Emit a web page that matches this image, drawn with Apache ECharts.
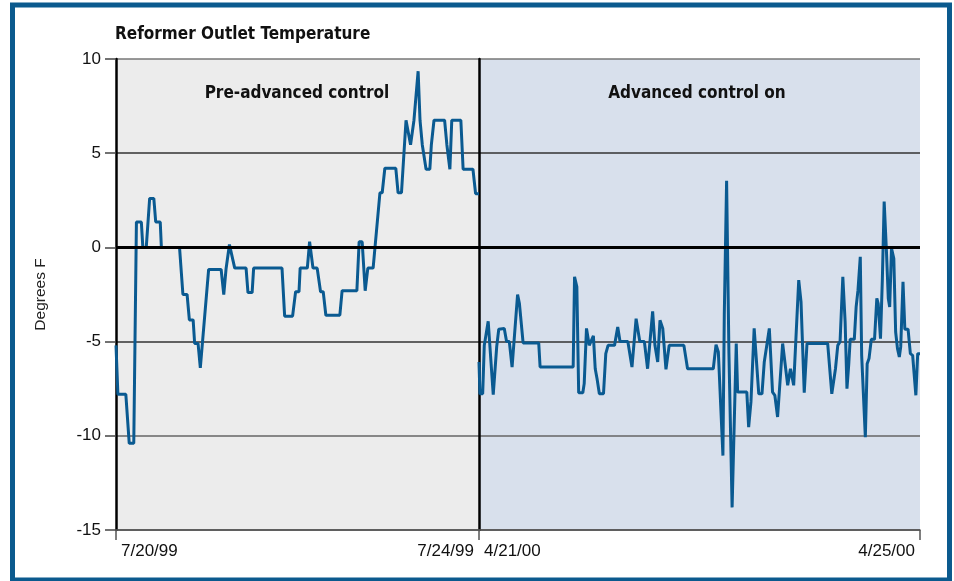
<!DOCTYPE html>
<html>
<head>
<meta charset="utf-8">
<title>Reformer Outlet Temperature</title>
<script src="https://cdn.jsdelivr.net/npm/echarts@6/dist/echarts.min.js"></script>
<style>
  html, body { margin: 0; padding: 0; background: #fff; }
  #chart { width: 954px; height: 581px; }
</style>
</head>
<body>
<div id="chart"></div>
<script>
// tick labels
const yTickValues = [-15, -10, -5, 0, 5, 10]
const preDateLabels = ['7/20/99', '7/24/99']
const postDateLabels = ['4/21/00', '4/25/00']

// pre-advanced control, hours after 7/20/99
const preHours = [0, 0.5, 2.6, 3.5, 4.7, 5.4, 6.7, 7.1, 8.0, 8.9, 10.0, 10.5, 11.7, 12.0, 16.8, 17.7, 18.8, 19.4, 20.4, 20.8,
  21.7, 22.3, 24.5, 27.8, 28.5, 29.1, 30.0, 31.4, 34.4, 34.9, 36.0, 36.4, 43.9, 44.6, 46.7, 47.5, 48.4, 48.7, 50.6, 51.2,
  52.1, 53.2, 54.1, 54.8, 55.5, 59.2, 59.8, 63.7, 64.3, 65.1, 65.9, 66.6, 68.0, 69.8, 70.4, 71.1, 74.0, 74.6, 75.5, 76.7,
  77.9, 78.8, 79.9, 80.4, 81.0, 81.5, 82.0, 83.0, 83.4, 84.1, 86.9, 87.5, 88.3, 88.8, 91.2, 91.8, 94.4, 95.1, 96.0]
const preTemps = [-5.2, -7.8, -7.8, -10.4, -10.4, 1.35, 1.35, 0, 0, 2.6, 2.6, 1.35, 1.35, 0, 0, -2.5, -2.5, -3.85, -3.85, -5.1,
  -5.1, -6.4, -1.17, -1.17, -2.5, -1.15, 0.15, -1.1, -1.1, -2.4, -2.4, -1.1, -1.1, -3.65, -3.65, -2.35, -2.35, -1.1, -1.1, 0.3,
  -1.1, -1.1, -2.35, -2.35, -3.6, -3.6, -2.3, -2.3, 0.3, 0.3, -2.3, -1.1, -1.1, 2.9, 2.9, 4.2, 4.2, 2.9, 2.9, 6.75,
  5.45, 6.75, 9.35, 6.75, 5.45, 5.45, 4.15, 4.15, 5.45, 6.75, 6.75, 5.45, 4.15, 6.75, 6.75, 4.15, 4.15, 2.85, 2.85]

// advanced control on, hours after 4/21/00
const postHours = [0, 0.2, 0.8, 1.15, 2.0, 3.1, 3.85, 4.3, 5.5, 5.7, 6.0, 6.6, 7.2, 8.4, 8.8, 9.6, 13.0, 13.3, 20.5, 20.8,
  21.3, 21.7, 22.6, 22.9, 23.4, 24.0, 24.9, 25.3, 25.7, 26.2, 27.1, 27.6, 28.1, 29.5, 30.2, 30.7, 32.4, 33.3, 34.2, 35.0,
  36.0, 36.7, 37.1, 37.8, 38.3, 38.9, 39.4, 40.0, 40.7, 41.1, 41.4, 44.6, 45.4, 51.0, 51.6, 52.1, 53.1, 53.4, 53.9, 54.4,
  55.1, 56.0, 56.3, 58.3, 58.7, 59.2, 59.9, 60.9, 61.6, 62.1, 63.2, 63.9, 64.4, 65.0, 66.1, 67.2, 67.8, 68.5, 69.6, 70.1,
  70.8, 71.4, 75.9, 76.8, 77.6, 78.1, 78.6, 79.2, 79.7, 80.1, 80.5, 80.8, 81.7, 82.1, 82.5, 83.0, 83.3, 84.1, 84.5, 84.9,
  85.4, 86.1, 86.6, 86.9, 87.4, 87.8, 88.2, 88.7, 89.1, 89.4, 89.8, 90.3, 90.7, 91.1, 91.5, 91.8, 92.3, 92.7, 93.4, 93.9,
  94.4, 95.1, 95.5, 96.0]
const postTemps = [-6.08, -7.77, -7.77, -5.2, -3.92, -7.82, -5.28, -4.34, -4.3, -4.2, -5.0, -5.0, -6.35, -2.5, -2.98, -5.07, -5.07, -6.35, -6.35, -1.56,
  -2.09, -7.71, -7.71, -7.23, -4.3, -5.2, -4.7, -6.44, -6.97, -7.77, -7.77, -5.64, -5.2, -5.2, -4.22, -5.0, -5.0, -6.35, -3.78, -5.0,
  -5.0, -6.44, -6.44, -3.39, -5.2, -6.08, -3.87, -4.3, -6.47, -6.47, -5.2, -5.2, -6.44, -6.44, -5.16, -5.55, -11.05, -3.51, 3.53, -5.55,
  -13.8, -5.1, -7.68, -7.68, -9.54, -8.2, -4.3, -7.77, -7.77, -6.08, -4.3, -7.68, -7.85, -9.0, -5.1, -7.32, -6.44, -7.32, -1.74, -2.89,
  -7.71, -5.1, -5.1, -7.77, -6.44, -5.2, -5.0, -1.56, -3.95, -7.5, -6.17, -4.88, -4.88, -3.16, -2.27, -0.5, -5.73, -10.07, -6.17, -5.9,
  -4.88, -4.88, -2.71, -2.98, -4.84, -1.74, 2.43, -0.23, -2.71, -3.16, -0.05, -0.59, -4.49, -5.37, -5.82, -5.28, -1.83, -4.34, -4.34, -5.64,
  -5.73, -7.85, -5.64, -5.64]

const chart = echarts.init(document.getElementById('chart'))

const boldFont = '"Liberation Sans Narrow", "DejaVu Sans Condensed", "Roboto Condensed", "Liberation Sans", sans-serif'
const plainFont = '"Liberation Sans", Arial, sans-serif'
const lineColor = '#0a5a91'

const zip = (xs, ys) => xs.map((x, i) => [x, ys[i]])

// 零线
const zeroLine = {
  silent: true,
  symbol: 'none',
  label: { show: false },
  lineStyle: { color: '#000', width: 3, type: 'solid' },
  data: [{ yAxis: 0 }]
}

function xAxisOf(grid, labels) {
  return {
    type: 'value',
    gridIndex: grid,
    min: 0,
    max: 96,
    interval: 96,
    axisLine: { show: true, onZero: false, lineStyle: { color: '#555', width: 1.5 } },
    axisTick: { show: true, length: 10, lineStyle: { color: '#555', width: 1.5 } },
    axisLabel: {
      color: '#111',
      fontFamily: plainFont,
      fontSize: 17,
      margin: 13,
      padding: [0, 5, 0, 5],
      alignMinLabel: 'left',
      alignMaxLabel: 'right',
      formatter: (v) => (v === 0 ? labels[0] : labels[1])
    },
    splitLine: { show: false }
  }
}

function yAxisOf(grid, showLabels) {
  return {
    type: 'value',
    gridIndex: grid,
    min: yTickValues[0],
    max: yTickValues[yTickValues.length - 1],
    interval: yTickValues[1] - yTickValues[0],
    name: showLabels ? 'Degrees F' : '',
    nameLocation: 'middle',
    nameGap: 67,
    nameTextStyle: { color: '#222', fontFamily: plainFont, fontSize: 15.5 },
    axisLine: { show: true, lineStyle: { color: '#000', width: 2.5 } },
    axisTick: { show: showLabels, length: 11, lineStyle: { color: '#444', width: 1.5 } },
    axisLabel: { show: showLabels, color: '#111', fontFamily: plainFont, fontSize: 17, margin: 15 },
    splitLine: {
      show: true,
      lineStyle: { color: ['#555', '#666', '#333', '#000', '#333', '#777'], width: 1.5 }
    }
  }
}

const option = {
  animation: false,
  grid: [
    { left: 116, top: 59, width: 363, height: 471, show: true, backgroundColor: '#ececec', borderWidth: 0 },
    { left: 479, top: 59, width: 441, height: 471, show: true, backgroundColor: '#d8e0ec', borderWidth: 0 }
  ],
  xAxis: [xAxisOf(0, preDateLabels), xAxisOf(1, postDateLabels)],
  yAxis: [yAxisOf(0, true), yAxisOf(1, false)],
  series: [
    {
      type: 'line',
      xAxisIndex: 0,
      yAxisIndex: 0,
      showSymbol: false,
      lineStyle: { color: lineColor, width: 3 },
      data: zip(preHours, preTemps),
      markLine: zeroLine
    },
    {
      type: 'line',
      xAxisIndex: 1,
      yAxisIndex: 1,
      showSymbol: false,
      lineStyle: { color: lineColor, width: 3 },
      data: zip(postHours, postTemps),
      markLine: zeroLine
    }
  ],
  graphic: [
    {
      type: 'rect',
      shape: { x: 12.5, y: 5, width: 937, height: 575 },
      style: { fill: 'none', stroke: '#0b5a8e', lineWidth: 5 },
      silent: true
    },
    {
      type: 'text',
      x: 115,
      y: 35,
      style: { text: 'Reformer Outlet Temperature', fill: '#111', font: 'bold 17px ' + boldFont, verticalAlign: 'middle' }
    },
    {
      type: 'text',
      x: 297,
      y: 94,
      style: { text: 'Pre-advanced control', fill: '#111', font: 'bold 17px ' + boldFont, align: 'center', verticalAlign: 'middle' }
    },
    {
      type: 'text',
      x: 697,
      y: 94,
      style: { text: 'Advanced control on', fill: '#111', font: 'bold 17px ' + boldFont, align: 'center', verticalAlign: 'middle' }
    }
  ]
}

chart.setOption(option)
</script>
</body>
</html>
